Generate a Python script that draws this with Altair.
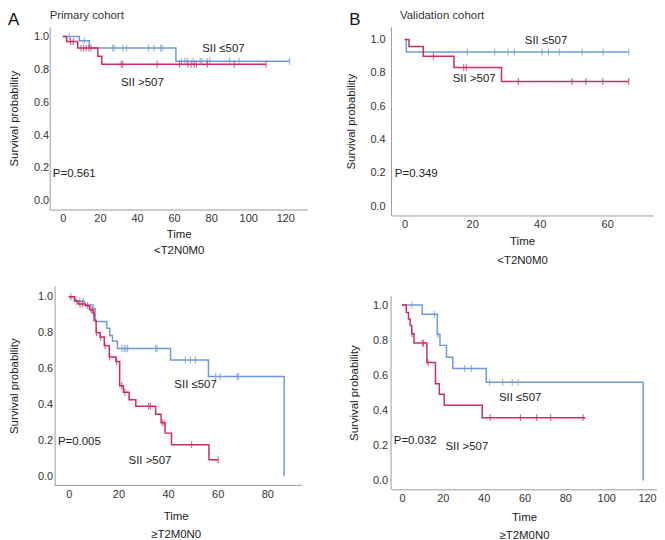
import altair as alt
import pandas as pd

# ---------------- data ----------------
# Panel A: Primary cohort, <T2N0M0
A_low_t = [0, 8.9, 14.3, 61.0]
A_low_s = [1.0, 0.975, 0.93, 0.85]
A_low_end = 122.3
A_low_cens = [3.5, 11.6, 26.8, 27.7, 32.3, 34.4, 46.2, 49.1, 52.7, 53.6, 64.0, 65.8,
              67.0, 70.2, 74.1, 75.0, 77.7, 79.3, 90.0, 95.0, 122.3]
A_high_t = [0, 2.0, 8.0, 18.9, 21.0]
A_high_s = [1.0, 0.97, 0.93, 0.88, 0.832]
A_high_end = 109.6
A_high_cens = [4.1, 5.6, 9.8, 11.2, 12.6, 14.0, 15.2, 31.5, 32.3, 50.9, 63.0, 67.5,
               69.2, 70.8, 72.0, 78.0, 92.5, 109.6]

# Panel B: Validation cohort, <T2N0M0
B_low_t = [0, 0.5]
B_low_s = [1.0, 0.925]
B_low_end = 66.4
B_low_cens = [18.6, 26.7, 30.6, 32.5, 40.7, 42.6, 45.8, 52.6, 58.8, 66.4]
B_high_t = [0, 1.3, 5.5, 14.6, 28.7]
B_high_s = [1.0, 0.958, 0.90, 0.832, 0.748]
B_high_end = 66.4
B_high_cens = [8.5, 17.5, 18.3, 33.7, 49.6, 53.7, 58.7, 66.4]

# Panel C: Primary cohort, >=T2M0N0
C_low_t = [0, 2.3, 6.3, 9.7, 10.6, 15.3, 16.5, 17.6, 19.6, 41.0, 56.3, 86.8]
C_low_s = [1.0, 0.975, 0.955, 0.935, 0.862, 0.825, 0.785, 0.752, 0.712, 0.648, 0.556, 0.0]
C_low_end = 86.8
C_low_cens = [3.1, 4.4, 5.8, 21.4, 22.3, 23.0, 23.7, 35.0, 35.6, 47.0, 49.0, 51.0,
              59.2, 61.0, 67.8, 68.4]
C_high_t = [0, 2.4, 3.7, 6.7, 8.4, 9.7, 10.2, 11.0, 12.6, 14.3, 16.3, 19.0, 20.5, 22.0,
            24.3, 27.0, 35.0, 37.2, 38.8, 41.4, 56.5]
C_high_s = [1.0, 0.978, 0.96, 0.95, 0.928, 0.91, 0.87, 0.80, 0.776, 0.728, 0.664, 0.64,
            0.504, 0.468, 0.426, 0.39, 0.345, 0.298, 0.24, 0.175, 0.092]
C_high_end = 60.2
C_high_cens = [0.8, 4.5, 5.5, 7.6, 9.0, 10.0, 11.2, 12.8, 14.6, 16.5, 19.3, 21.3, 22.6,
               32.2, 32.9, 37.6, 38.4, 49.5, 60.2]

# Panel D: Validation cohort, >=T2M0N0
D_low_t = [0, 9.9, 17.3, 18.6, 21.8, 24.9, 41.3, 118.1]
D_low_s = [1.0, 0.947, 0.834, 0.77, 0.702, 0.638, 0.56, 0.0]
D_low_end = 118.1
D_low_cens = [4.8, 15.9, 17.6, 30.7, 33.9, 42.9, 49.3, 54.0, 56.9]
D_high_t = [0, 2.1, 3.2, 4.0, 4.8, 5.9, 12.2, 16.4, 18.3, 20.7, 39.3]
D_high_s = [1.0, 0.958, 0.921, 0.883, 0.836, 0.783, 0.672, 0.551, 0.492, 0.428, 0.358]
D_high_end = 89.8
D_high_cens = [4.9, 10.0, 10.6, 12.8, 43.2, 58.0, 66.0, 72.8, 88.7]

# annotation texts (time, survival)
LOW_LABEL = "SII \u2264507"
HIGH_LABEL = "SII >507"
A_notes = [(86.6, 0.926, LOW_LABEL), (42.9, 0.719, HIGH_LABEL)]
B_notes = [(41.9, 0.989, LOW_LABEL), (20.6, 0.766, HIGH_LABEL)]
C_notes = [(51.1, 0.506, LOW_LABEL), (32.7, 0.085, HIGH_LABEL)]
D_notes = [(57.9, 0.47, LOW_LABEL), (31.8, 0.188, HIGH_LABEL)]
A_p = (-5.4, 0.166, "P=0.561")
B_p = (-2.9, 0.196, "P=0.349")
C_p = (-4.4, 0.19, "P=0.005")
D_p = (-4.0, 0.222, "P=0.032")

Y_TICKS = [0.0, 0.2, 0.4, 0.6, 0.8, 1.0]

# ---------------- styling ----------------
FONT = "Liberation Sans"
BLUE = "#6e9bd7"
RED = "#cf2d58"
TXT = "#333333"
AXC = "#9a9a9a"


def surv_at(t, s, x):
    v = s[0]
    for ti, si in zip(t, s):
        if ti <= x + 1e-9:
            v = si
    return v


def curve_frames(t, s, end, cens):
    rows = [{"t": ti, "s": si} for ti, si in zip(t, s)]
    if end > t[-1]:
        rows.append({"t": end, "s": s[-1]})
    crow = [{"t": c, "s": surv_at(t, s, c)} for c in cens]
    return pd.DataFrame(rows), pd.DataFrame(crow)


def panel(low, high, notes, pnote, xdom, ydom, xticks, w, h, xtitle,
          ylab_pad, ytitle_pad, xtitle_pad, xline_h, yoffset=0,
          header=None, own_xline=False, ytop=0):
    xaxis = alt.Axis(values=xticks, format="d", title=xtitle, labelPadding=3,
                     titlePadding=xtitle_pad, titleLineHeight=xline_h,
                     domain=not own_xline)
    yargs = dict(values=Y_TICKS, format=".1f", title="Survival probability",
                 labelPadding=ylab_pad, titlePadding=ytitle_pad, offset=yoffset)
    if ytop:
        yargs.update(domain=False, titleY=(ytop + h) / 2)
    yaxis = alt.Axis(**yargs)
    X = alt.X("t:Q", scale=alt.Scale(domain=xdom, nice=False, zero=False), axis=xaxis)
    Y = alt.Y("s:Q", scale=alt.Scale(domain=ydom, nice=False, zero=False), axis=yaxis)

    layers = []
    for (t, s, end, cens), col in ((low, BLUE), (high, RED)):
        ldf, cdf = curve_frames(t, s, end, cens)
        layers.append(alt.Chart(ldf).mark_line(interpolate="step-after", color=col,
                                               strokeWidth=1.5).encode(x=X, y=Y))
        layers.append(alt.Chart(cdf).mark_tick(orient="vertical", color=col, size=7,
                                               thickness=1.2).encode(x=X, y=Y))
    ndf = pd.DataFrame([{"t": a, "s": b, "txt": c} for a, b, c in notes])
    layers.append(alt.Chart(ndf).mark_text(font=FONT, fontSize=11.5, color="#222",
                                           align="center", baseline="middle")
                  .encode(x=X, y=Y, text="txt:N"))
    pdf = pd.DataFrame([{"t": pnote[0], "s": pnote[1], "txt": pnote[2]}])
    layers.append(alt.Chart(pdf).mark_text(font=FONT, fontSize=11.5, color="#222",
                                           align="left", baseline="middle")
                  .encode(x=X, y=Y, text="txt:N"))
    if own_xline:
        layers.append(alt.Chart(pdf).mark_rule(color=AXC, strokeWidth=1).encode(
            x=alt.value(-yoffset), x2=alt.value(w), y=alt.value(h)))
    if ytop:
        layers.append(alt.Chart(pdf).mark_rule(color=AXC, strokeWidth=1).encode(
            x=alt.value(0), y=alt.value(ytop), y2=alt.value(h)))
    if header is not None:
        letter, lx, title, tx = header
        layers.append(alt.Chart(pdf).mark_text(text=letter, font=FONT, fontSize=17,
                                               color="#111", align="left",
                                               baseline="middle")
                      .encode(x=alt.value(lx), y=alt.value(-7)))
        layers.append(alt.Chart(pdf).mark_text(text=title, font=FONT, fontSize=11.5,
                                               color="#333", align="left",
                                               baseline="middle")
                      .encode(x=alt.value(tx), y=alt.value(-11)))
    return alt.layer(*layers).properties(width=w, height=h)


pA = panel((A_low_t, A_low_s, A_low_end, A_low_cens),
           (A_high_t, A_high_s, A_high_end, A_high_cens),
           A_notes, A_p, [-7.12, 132.1], [-0.0526, 1.059], [0, 20, 40, 60, 80, 100, 120],
           260, 184, ["Time", "<T2N0M0"], 1, 14, 5, 16.5,
           header=("A", -42, "Primary cohort", 0))
pB = panel((B_low_t, B_low_s, B_low_end, B_low_cens),
           (B_high_t, B_high_s, B_high_end, B_high_cens),
           B_notes, B_p, [-4.03, 73.6], [-0.0554, 1.0756], [0, 20, 40, 60],
           264, 190, ["Time", "<T2N0M0"], 6, 14, 6.5, 18.5,
           header=("B", -42, "Validation cohort", 9))
pC = panel((C_low_t, C_low_s, C_low_end, C_low_cens),
           (C_high_t, C_high_s, C_high_end, C_high_cens),
           C_notes, C_p, [-7.72, 93.9], [-0.0515, 1.061], [0, 20, 40, 60, 80],
           254, 201, ["Time", "\u2265T2M0N0"], 2, 18, 11, 19, yoffset=-5,
           own_xline=True)
pD = panel((D_low_t, D_low_s, D_low_end, D_low_cens),
           (D_high_t, D_high_s, D_high_end, D_high_cens),
           D_notes, D_p, [-5.35, 124.9], [-0.0509, 1.109], [0, 20, 40, 60, 80, 100, 120],
           268, 205, ["Time", "\u2265T2M0N0"], 3.5, 13, 8, 19, ytop=10)

chart = alt.concat(pA, pB, pC, pD, columns=2, spacing={"row": 56, "column": 76},
                   bounds="flush", align="all").properties(
    padding=0
).configure(font=FONT, background="white").configure_view(stroke=None).configure_axis(
    grid=False, ticks=False, tickSize=0, domainColor=AXC, domainWidth=1,
    labelFont=FONT, labelFontSize=11, labelColor=TXT,
    titleFont=FONT, titleFontSize=11.5, titleFontWeight="normal", titleColor="#222"
)

chart.save("out.html", embed_options={"renderer": "svg", "actions": False})
